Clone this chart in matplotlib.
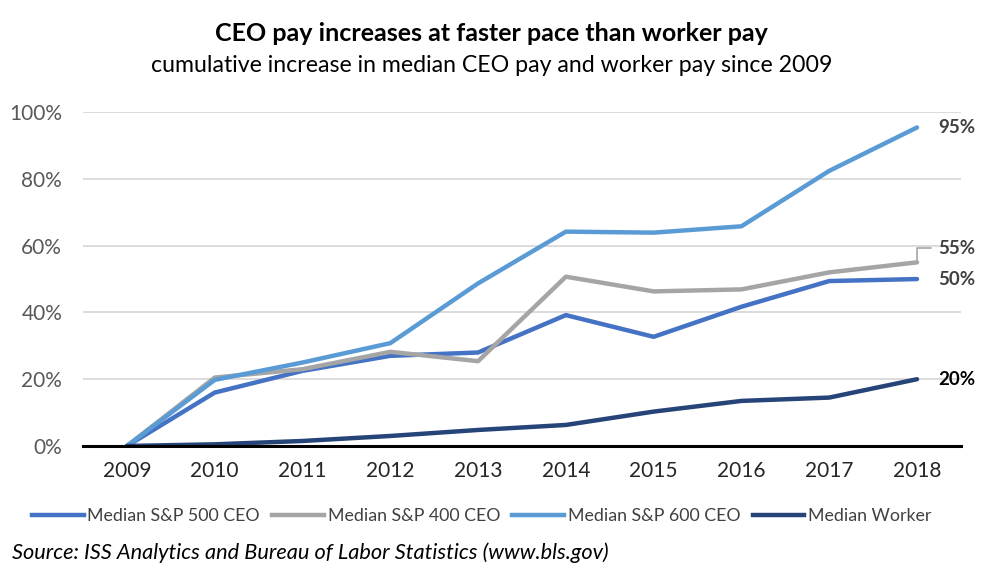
import matplotlib
matplotlib.use("Agg")
import matplotlib.pyplot as plt
from matplotlib.lines import Line2D

plt.rcParams["font.family"] = ["Lato", "DejaVu Sans"]

# ── Data ──────────────────────────────────────────────────────────────────────
years = [2009, 2010, 2011, 2012, 2013, 2014, 2015, 2016, 2017, 2018]
sp500 = [0, 16.0, 22.5, 27.0, 28.0, 39.2, 32.7, 41.7, 49.4, 50.0]
sp400 = [0, 20.5, 23.0, 28.2, 25.4, 50.7, 46.3, 46.9, 52.0, 55.0]
sp600 = [0, 19.8, 25.0, 30.8, 48.7, 64.2, 63.9, 65.8, 82.4, 95.4]
worker = [0, 0.5, 1.5, 3.0, 4.8, 6.3, 10.3, 13.5, 14.5, 20.0]

names = ["Median S&P 500 CEO", "Median S&P 400 CEO",
         "Median S&P 600 CEO", "Median Worker"]
colors = ["#4472C4", "#A5A5A5", "#5B9BD5", "#264478"]
end_labels = ["50%", "55%", "95%", "20%"]
label_colors = ["#404040", "#404040", "#404040", "#000000"]

# ── Figure ────────────────────────────────────────────────────────────────────
fig = plt.figure(figsize=(9.83, 5.72), dpi=100)
ax = fig.add_axes([0.0845, 0.2203, 0.893, 0.5837])

x = list(range(len(years)))
series = [sp500, sp400, sp600, worker]
order = [3, 0, 1, 2]  # drawing order
for i in order:
    ax.plot(x, [v / 100 for v in series[i]], color=colors[i], lw=3.2,
            solid_capstyle="round", solid_joinstyle="round", zorder=3 + i)

ax.set_xlim(-0.5, len(years) - 0.5)
ax.set_ylim(0, 1.0)
ax.set_yticks([0, 0.2, 0.4, 0.6, 0.8, 1.0])
ax.set_yticklabels(["0%", "20%", "40%", "60%", "80%", "100%"])
ax.set_xticks(x)
ax.set_xticklabels([str(y) for y in years])
ax.tick_params(length=0, labelsize=15)
ax.tick_params(axis="x", pad=11, labelcolor="#262626")
ax.tick_params(axis="y", pad=15, labelcolor="#595959")

ax.grid(axis="y", color="#D9D9D9", lw=1.3, zorder=0)
for s in ["top", "right", "left"]:
    ax.spines[s].set_visible(False)
ax.spines["bottom"].set_color("black")
ax.spines["bottom"].set_linewidth(2.2)
ax.spines["bottom"].set_zorder(10)

# end labels
last = x[-1]
for i, lab in enumerate(end_labels):
    yv = series[i][-1] / 100
    if lab == "55%":
        ax.annotate(lab, xy=(last, yv), xytext=(15, 10), textcoords="offset points",
                    fontsize=13.5, fontweight="bold", color=label_colors[i],
                    va="center", ha="left", annotation_clip=False,
                    arrowprops=dict(arrowstyle="-", color="#A5A5A5", lw=1.2,
                                    shrinkA=3, shrinkB=0,
                                    connectionstyle="angle,angleA=0,angleB=90,rad=0"))
    else:
        ax.annotate(lab, xy=(last, yv), xytext=(15, 0), textcoords="offset points",
                    fontsize=13.5, fontweight="bold", color=label_colors[i],
                    va="center", ha="left", annotation_clip=False)

# titles
fig.text(0.5, 0.942, "CEO pay increases at faster pace than worker pay",
         ha="center", va="center", fontsize=18, fontweight="bold", color="black")
fig.text(0.5, 0.886, "cumulative increase in median CEO pay and worker pay since 2009",
         ha="center", va="center", fontsize=16.7, color="black")

# legend
handles = [Line2D([0], [0], color=c, lw=3.2) for c in colors]
fig.legend(handles, names, loc="center", bbox_to_anchor=(0.49, 0.098),
           ncol=4, frameon=False, fontsize=12.8, handlelength=2.9,
           handletextpad=0.2, columnspacing=0.7, labelcolor="#404040")

fig.text(0.012, 0.033, "Source: ISS Analytics and Bureau of Labor Statistics (www.bls.gov)",
         ha="left", va="center", fontsize=15.7, style="italic", color="black")

fig.savefig("out.png", dpi=100)
